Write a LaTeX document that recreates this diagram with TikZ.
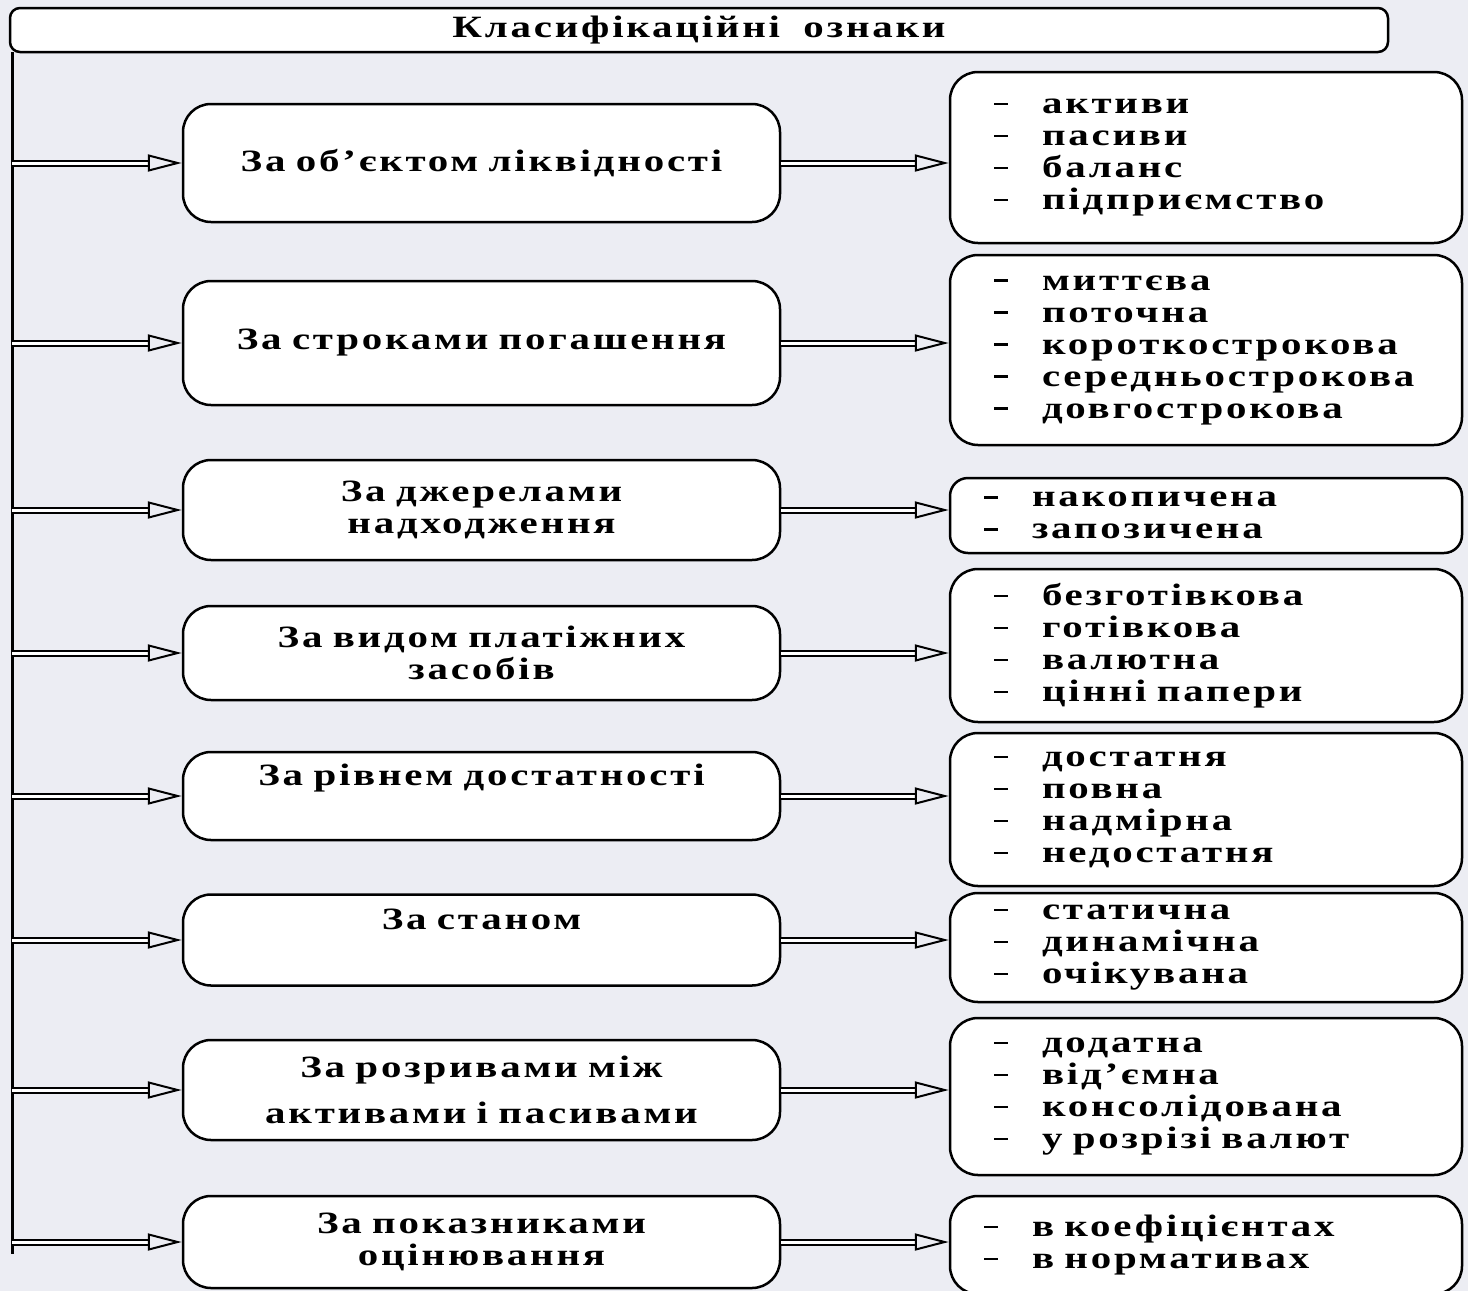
\documentclass[tikz,border=0pt]{standalone}
\usepackage{fontspec}
\setmainfont{Liberation Serif}[FakeStretch=1.32, LetterSpace=9, WordSpace=1.8]
\usetikzlibrary{arrows.meta, positioning}

\definecolor{bgcol}{RGB}{236,237,243}
\newcommand\itm[1]{\makebox[48pt][l]{\rule[8pt]{14pt}{2.6pt}}#1}

\tikzset{
    box/.style={draw, line width=2.5pt, fill=white, rounded corners=28pt,
        font=\bfseries\fontsize{31}{32}\selectfont},
    lbox/.style={box, minimum width=597pt, text width=570pt, align=center},
    rbox/.style={box, minimum width=512pt, inner xsep=44pt, text width=424pt, align=left},
    rboxn/.style={rbox, inner xsep=34pt, text width=444pt},
    dblarr/.style={double, double distance=3pt, line width=2pt,
        -{Triangle[open, length=34pt, width=17pt]}}
}

\begin{document}
\begin{tikzpicture}[x=1pt, y=-1pt]
    \useasboundingbox[fill=bgcol] (0,0) rectangle (1468,1291);

    % header
    \node[box, rounded corners=10pt, minimum width=1378pt, minimum height=44pt, inner sep=1pt]
        (title) at (699,30) {Класифікаційні ознаки};
    \coordinate (trunk) at (12,52);

    % criteria
    \node[lbox, minimum height=118pt] (k1) at (481.5,163) {За об’єктом ліквідності};
    \node[lbox, minimum height=124pt] (k2) at (481.5,343) {За строками погашення};
    \node[lbox, minimum height=100pt] (k3) at (481.5,510) {За джерелами\\надходження};
    \node[lbox, minimum height=94pt] (k4) at (481.5,653) {За видом платіжних\\засобів};
    \node[lbox, minimum height=88pt] (k5) at (481.5,796) {За рівнем достатності\\\strut};
    \node[lbox, minimum height=91pt] (k6) at (481.5,940) {За станом\\\strut};
    \node[lbox, minimum height=100pt] (k7) at (481.5,1090) {За розривами між\\[14pt]активами і пасивами};
    \node[lbox, minimum height=92pt] (k8) at (481.5,1242) {За показниками\\оцінювання};

    % kinds
    \node[rbox, minimum height=171pt] (v1) at (1206,157.5)
        {\itm{активи}\\\itm{пасиви}\\\itm{баланс}\\\itm{підприємство}};
    \node[rbox, minimum height=190pt] (v2) at (1206,350)
        {\itm{миттєва}\\\itm{поточна}\\\itm{короткострокова}\\\itm{середньострокова}\\\itm{довгострокова}};
    \node[rboxn, minimum height=75pt, rounded corners=18pt] (v3) at (1206,515.5)
        {\itm{накопичена}\\\itm{запозичена}};
    \node[rbox, minimum height=153pt] (v4) at (1206,645.5)
        {\itm{безготівкова}\\\itm{готівкова}\\\itm{валютна}\\\itm{цінні папери}};
    \node[rbox, minimum height=153pt] (v5) at (1206,809.5)
        {\itm{достатня}\\\itm{повна}\\\itm{надмірна}\\\itm{недостатня}};
    \node[rbox, minimum height=109pt] (v6) at (1206,947.5)
        {\itm{статична}\\\itm{динамічна}\\\itm{очікувана}};
    \node[rbox, minimum height=157pt] (v7) at (1206,1096.5)
        {\itm{додатна}\\\itm{від’ємна}\\\itm{консолідована}\\\itm{у розрізі валют}};
    \node[rboxn, minimum height=98pt] (v8) at (1206,1245)
        {\itm{в коефіцієнтах}\\\itm{в нормативах}};

    % connectors
    \draw[line width=3pt] (trunk) -- ([yshift=-12pt]trunk |- k8.west);
    \foreach \i in {1,...,8} {
        \draw[dblarr] (trunk |- k\i.west) -- (k\i.west);
        \draw[dblarr] (k\i.east) -- (k\i.east -| v\i.west);
    }
\end{tikzpicture}
\end{document}
